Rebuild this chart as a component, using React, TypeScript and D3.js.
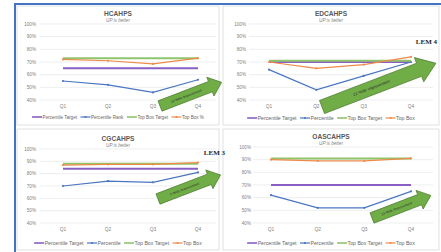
import React, { useEffect, useRef } from "react";
import * as d3 from "d3";

const W = 441, H = 252;

const quarters = ["Q1", "Q2", "Q3", "Q4"];
const yTicks = [40, 50, 60, 70, 80, 90, 100];

// HCAHPS
const hcPctTarget = [65, 65, 65, 65];
const hcPct = [55, 52, 46, 56];
const hcTbTarget = [73, 73, 73, 73];
const hcTb = [72, 71, 68.5, 73];
// EDCAHPS
const edPctTarget = [70, 70, 70, 70];
const edPct = [64, 48, 59, 70];
const edTbTarget = [71, 71, 71, 71];
const edTb = [70, 65, 68, 74];
// CGCAHPS
const cgPctTarget = [84, 84, 84, 84];
const cgPct = [70, 74, 73, 81];
const cgTbTarget = [88, 88, 88, 88];
const cgTb = [87, 87.5, 87.5, 89];
// OASCAHPS
const oaPctTarget = [70, 70, 70, 70];
const oaPct = [62, 52, 52, 65];
const oaTbTarget = [91, 91, 91, 91];
const oaTb = [90, 89, 89, 91];

const titles = ["HCAHPS", "EDCAHPS", "CGCAHPS", "OASCAHPS"];
const legendHc = ["Percentile Target", "Percentile Rank", "Top Box Target", "Top Box %"];
const legendOther = ["Percentile Target", "Percentile", "Top Box Target", "Top Box"];
const arrowTexts = ["10 %tile Improvement", "22 %tile Improvement", "8 %tile Improvement", "13 %tile Improvement"];
const lemLabels = ["LEM 4", "LEM 3"];

const colors = ["#8a5fc4", "#4a76c2", "#8fc46d", "#ee8a4a"];
const widths = [2, 1.2, 2, 1.2];
const markers = [false, true, false, true];

const panels = [
  { box: [17, 6, 202, 119], series: [hcPctTarget, hcPct, hcTbTarget, hcTb], legend: legendHc,
    y: [100, 24], grid: [40, 216], x: [63, 198], labelX: 36, qY: 108, legY: 117, legFs: 4.6,
    arrow: { x: 160, y: 106, len: 66, w: 11, hw: 20, hl: 12 } },
  { box: [223, 6, 216, 119], series: [edPctTarget, edPct, edTbTarget, edTb], legend: legendOther,
    y: [100, 24], grid: [249, 433], x: [269, 411], labelX: 246, qY: 108, legY: 118, legFs: 5.2,
    arrow: { x: 322, y: 107, len: 122, w: 14, hw: 26, hl: 18 } },
  { box: [17, 129, 202, 121], series: [cgPctTarget, cgPct, cgTbTarget, cgTb], legend: legendOther,
    y: [223, 149], grid: [40, 216], x: [63, 198], labelX: 36, qY: 231, legY: 243, legFs: 5.2,
    arrow: { x: 158, y: 199, len: 67, w: 11, hw: 20, hl: 12 } },
  { box: [223, 129, 216, 121], series: [oaPctTarget, oaPct, oaTbTarget, oaTb], legend: legendOther,
    y: [223, 147], grid: [253, 433], x: [271, 411], labelX: 251, qY: 231, legY: 243, legFs: 5.2,
    arrow: { x: 372, y: 218, len: 63, w: 11, hw: 20, hl: 12 } },
];
const lemPos = [{ x: 437, y: 44 }, { x: 225, y: 155 }];

const font = "'Liberation Sans', Arial, sans-serif";

export default function App() {
  const ref = useRef<SVGSVGElement>(null);

  useEffect(() => {
    const svg = d3.select(ref.current);
    svg.selectAll("*").remove();

    svg.append("rect").attr("width", W).attr("height", H).attr("fill", "#ffffff");

    // blue frame
    svg.append("rect").attr("x", 14).attr("y", 3).attr("width", W - 14).attr("height", 2).attr("fill", "#4472c4");
    svg.append("rect").attr("x", 14).attr("y", 3).attr("width", 2).attr("height", H - 3).attr("fill", "#4472c4");

    panels.forEach((p, i) => {
      const g = svg.append("g");
      const [bx, by, bw, bh] = p.box;
      g.append("rect").attr("x", bx).attr("y", by).attr("width", bw).attr("height", bh)
        .attr("fill", "#ffffff").attr("stroke", "#d9d9d9").attr("stroke-width", 0.8);

      const cx = bx + bw / 2;
      const yScale = d3.scaleLinear().domain([40, 100]).range(p.y);
      const xScale = d3.scalePoint<string>().domain(quarters).range(p.x);

      g.append("text").attr("x", cx).attr("y", yScale(100) - 8.5).attr("text-anchor", "middle")
        .attr("font-family", font).attr("font-size", 6.6).attr("font-weight", "bold").attr("fill", "#595959")
        .text(titles[i]);
      g.append("text").attr("x", cx).attr("y", yScale(100) - 2.5).attr("text-anchor", "middle")
        .attr("font-family", font).attr("font-size", 4.6).attr("font-style", "italic").attr("fill", "#7f7f7f")
        .text("UP is better");

      yTicks.forEach(t => {
        g.append("line").attr("x1", p.grid[0]).attr("x2", p.grid[1])
          .attr("y1", yScale(t)).attr("y2", yScale(t)).attr("stroke", "#e3e3e3").attr("stroke-width", 0.6);
        g.append("text").attr("x", p.labelX).attr("y", yScale(t) + 1.6).attr("text-anchor", "end")
          .attr("font-family", font).attr("font-size", 4.6).attr("fill", "#808080").text(t + "%");
      });
      quarters.forEach(q => {
        g.append("text").attr("x", xScale(q)!).attr("y", p.qY).attr("text-anchor", "middle")
          .attr("font-family", font).attr("font-size", 4.8).attr("fill", "#808080").text(q);
      });

      const line = d3.line<number>().x((_, k) => xScale(quarters[k])!).y(d => yScale(d));
      p.series.forEach((s, k) => {
        g.append("path").attr("d", line(s)!).attr("fill", "none")
          .attr("stroke", colors[k]).attr("stroke-width", widths[k]);
        if (markers[k]) {
          g.selectAll(null).data(s).enter().append("circle")
            .attr("cx", (_, j) => xScale(quarters[j])!).attr("cy", d => yScale(d))
            .attr("r", 1.1).attr("fill", colors[k]);
        }
      });

      // arrow
      const a = p.arrow;
      const sw = a.len - a.hl;
      const pts: [number, number][] = [
        [0, -a.w / 2], [sw, -a.w / 2], [sw, -a.hw / 2], [a.len, 0],
        [sw, a.hw / 2], [sw, a.w / 2], [0, a.w / 2],
      ];
      const ag = g.append("g").attr("transform", `translate(${a.x},${a.y}) rotate(-21)`);
      ag.append("path").attr("d", "M" + pts.map(q => q.join(",")).join("L") + "Z")
        .attr("fill", "#70ad47").attr("stroke", "#4f7d31").attr("stroke-width", 0.7);
      ag.append("text").attr("x", sw / 2 + 1).attr("y", 1.2).attr("text-anchor", "middle")
        .attr("font-family", font).attr("font-size", a.len > 100 ? 4 : 3.4).attr("fill", "#2b2b2b")
        .text(arrowTexts[i]);

      // legend
      const lg = g.append("g");
      let x = 0;
      p.legend.forEach((name, k) => {
        lg.append("line").attr("x1", x).attr("x2", x + 10).attr("y1", 0).attr("y2", 0)
          .attr("stroke", colors[k]).attr("stroke-width", widths[k] > 1.5 ? 1.6 : 1.2);
        if (markers[k]) lg.append("circle").attr("cx", x + 5).attr("cy", 0).attr("r", 1.1).attr("fill", colors[k]);
        const t = lg.append("text").attr("x", x + 10.5).attr("y", p.legFs * 0.35)
          .attr("font-family", font).attr("font-size", p.legFs).attr("fill", "#666666").text(name);
        const len = (t.node() as SVGTextElement).getComputedTextLength();
        x += 10.5 + len + 3.5;
      });
      lg.attr("transform", `translate(${cx - (x - 3.5) / 2},${p.legY})`);
    });

    // LEM labels on top of panels
    lemLabels.forEach((txt, i) => {
      svg.append("text").attr("x", lemPos[i].x).attr("y", lemPos[i].y).attr("text-anchor", "end")
        .attr("font-family", "'Liberation Serif', 'Times New Roman', serif").attr("font-size", 7)
        .attr("font-weight", "bold").attr("fill", "#262626").text(txt);
    });
  }, []);

  return (
    <div style={{ position: "absolute", left: 0, top: 0 }}>
      <svg ref={ref} width={W} height={H} style={{ display: "block" }} />
    </div>
  );
}
